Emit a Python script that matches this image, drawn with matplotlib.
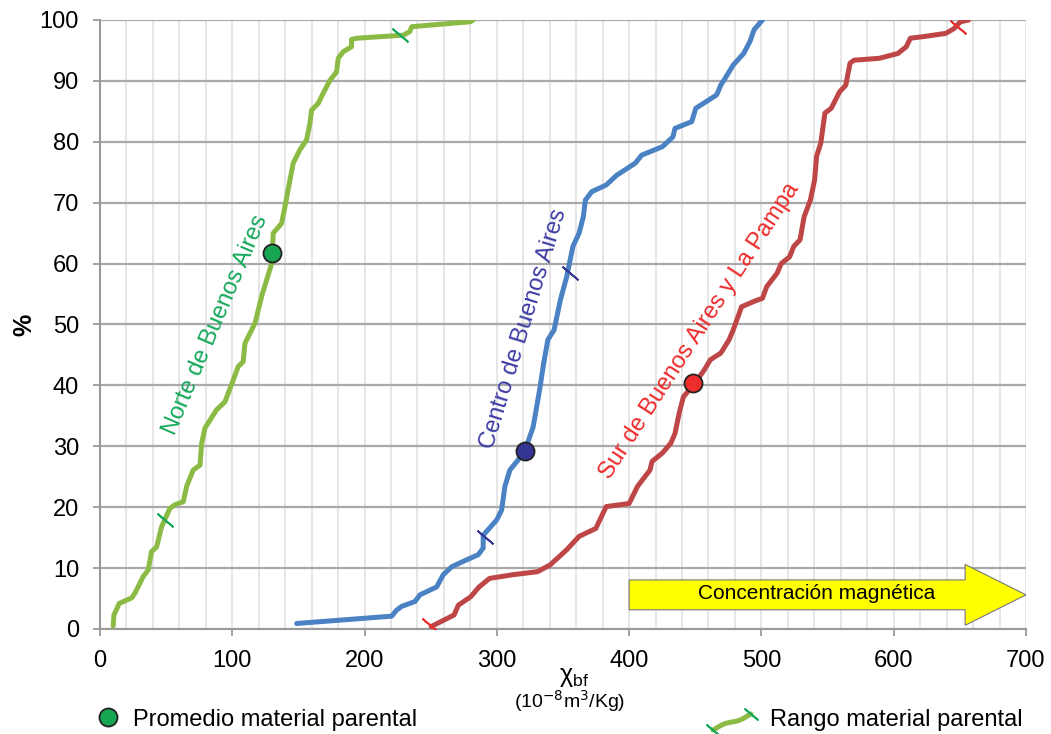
from matplotlib import pyplot as plt
from matplotlib import patches as mpatches
from matplotlib.lines import Line2D
from matplotlib import font_manager
import numpy as np

# cumulative curves (x = susceptibility, y = %)
norte_x = [10, 10.6, 14.6, 24, 26.5, 32.7, 36.5, 39, 42.9, 46.6, 52.9, 56.7, 63, 65.5, 70.5,
           75.6, 76.9, 79.4, 88.2, 94.5, 100.8, 104.5, 108.3, 109.6, 117.2, 122.2, 129.8, 131,
           137.3, 139.8, 143.6, 146.1, 151.2, 156.2, 158.7, 160, 165, 168.8, 173.9, 178.9, 180.1,
           183.9, 190.2, 190.2, 194, 229.3, 234.3, 235.6, 279.7, 282.2]
norte_y = [0.5, 2.3, 4.2, 5.1, 5.9, 8.6, 9.7, 12.7, 13.5, 16.8, 19.8, 20.4, 20.9, 23.4, 26.1,
           26.9, 30.5, 33, 36, 37.3, 40.9, 43.1, 43.9, 46.9, 50.2, 54.6, 60, 65,
           66.6, 69.3, 73.7, 76.5, 78.7, 80.3, 83, 85.2, 86.3, 88, 90.1, 91.5, 93.7,
           94.8, 95.6, 96.8, 97, 97.5, 98.1, 98.9, 99.7, 100]

centro_x = [148.7, 220.5, 224.3, 228, 238.1, 241.9, 254.5, 259.5, 265.8, 274.6, 286, 289.7,
            289.7, 299.9, 303.6, 306.1, 309.9, 318.1, 321.3, 327.5, 332.3, 335.4, 338.6, 343.3,
            348, 352.8, 357.5, 362.2, 365.4, 366.9, 371.7, 382.7, 390.6, 404.7, 409.5, 425.2,
            433.1, 434.7, 447.3, 450.4, 466.2, 469.3, 472.5, 478.7, 486.6, 491.4, 494.5, 500.8]
centro_y = [0.9, 2.1, 3.1, 3.7, 4.5, 5.6, 6.9, 8.9, 10.2, 11.1, 12.2, 13.3,
            15.4, 17.9, 19.5, 23.4, 26.1, 28.3, 29.3, 33.2, 39.2, 43.6, 47.5, 49.1,
            54, 57.8, 62.8, 65, 67.7, 70.4, 71.8, 72.9, 74.5, 76.5, 77.8, 79.2,
            80.8, 82.2, 83.3, 85.5, 87.7, 89.3, 90.4, 92.6, 94.5, 96.5, 98.4, 100]

sur_x = [250.4, 267.7, 270.9, 280.3, 286.6, 294.5, 311.8, 330.7, 340.2, 352.8, 362.2, 374.8,
         382.7, 400, 406.3, 415.8, 417.3, 425.2, 431.5, 434.7, 437.8, 441, 449.5, 456.7,
         461.4, 469.3, 475.6, 478.7, 485, 494.5, 500.8, 504, 511.8, 515, 521.3, 524.4,
         529.2, 532.3, 537, 540.2, 541.7, 544.9, 548, 552.8, 559.1, 563.8, 567, 570.1,
         589, 603.2, 609.5, 612.6, 623.6, 639.4, 645.7, 650.4, 656.7]
sur_y = [0.4, 2.3, 3.9, 5.3, 6.9, 8.3, 8.9, 9.4, 10.5, 13, 15.2, 16.5,
         20.1, 20.6, 23.4, 26.1, 27.5, 28.9, 30.5, 32.1, 35.4, 38.1, 40.3, 42.5,
         44.2, 45.3, 47.5, 49.1, 52.9, 53.8, 54.3, 56.2, 58.4, 60, 61.1, 62.8,
         63.9, 67.7, 70.4, 73.7, 77.6, 79.8, 84.7, 85.5, 88.2, 89.3, 92.9, 93.4,
         93.7, 94.5, 95.6, 97, 97.3, 97.8, 98.6, 99.7, 100]

# parent material: mean (dot) and range limits (ticks)
regions = ["Norte de Buenos Aires", "Centro de Buenos Aires", "Sur de Buenos Aires y La Pampa"]
mean_x = [130, 321.3, 448.3]
mean_y = [61.7, 29.2, 40.4]
range_lo_x = [49.1, 291, 249.4]
range_lo_y = [17.9, 15.1, 0.7]
range_hi_x = [226.8, 355.3, 648.8]
range_hi_y = [97.5, 58.5, 98.9]

line_colors = ["#8cbb45", "#4a82c4", "#bf4646"]
dot_colors = ["#17a552", "#353594", "#ee2d2d"]
text_colors = ["#14a85a", "#3b3ba3", "#ee2a2a"]
label_pos = [(87.5, 50, 67), (320.5, 49.3, 73), (453.5, 49, 57)]

avail = {f.name for f in font_manager.fontManager.ttflist}
narrow = "Liberation Sans Narrow" if "Liberation Sans Narrow" in avail else "Liberation Sans"
plt.rcParams['font.family'] = ['Liberation Sans', 'DejaVu Sans']

fig = plt.figure(figsize=(10.51, 7.34), dpi=100)
ax = fig.add_axes([0.0951, 0.1431, 0.8811, 0.8297])

curves = [(norte_x, norte_y), (centro_x, centro_y), (sur_x, sur_y)]
for i, (cx, cy) in enumerate(curves):
    ax.plot(cx, cy, color=line_colors[i], lw=3.6, solid_joinstyle='round',
            solid_capstyle='round', zorder=3)
    ax.plot([range_lo_x[i], range_hi_x[i]], [range_lo_y[i], range_hi_y[i]], ls='none',
            marker=(2, 2, 50), ms=15, mew=1.3, color=dot_colors[i] if i else text_colors[i],
            zorder=4)
    ax.plot(mean_x[i], mean_y[i], 'o', ms=13, mfc=dot_colors[i], mec='#222222', mew=1.3,
            zorder=5)
    lx, ly, rot = label_pos[i]
    ax.text(lx, ly, regions[i], rotation=rot, color=text_colors[i], fontsize=17,
            ha='center', va='center', rotation_mode='anchor')

arrow = mpatches.FancyArrow(400, 5.6, 300, 0, width=4.9, head_width=10, head_length=46,
                            length_includes_head=True, fc='#ffff00', ec='#777777', lw=0.8,
                            zorder=4)
ax.add_patch(arrow)
ax.text(542, 5.8, "Concentración magnética", fontsize=15, family=narrow,
        ha='center', va='center', zorder=5)

ax.set_xlim(0, 700)
ax.set_ylim(0, 100)
ax.set_xticks(np.arange(0, 701, 100))
ax.set_xticks(np.arange(0, 701, 20), minor=True)
ax.set_yticks(np.arange(0, 101, 10))
ax.grid(axis='x', which='both', color='#e2e2e2', lw=1.2, zorder=0)
ax.grid(axis='y', which='major', color='#a9a9a9', lw=1.6, zorder=1)
ax.set_axisbelow(True)
for s in ['top', 'right']:
    ax.spines[s].set_visible(False)
for s in ['left', 'bottom']:
    ax.spines[s].set_color('#9a9a9a')
    ax.spines[s].set_linewidth(1.5)
ax.tick_params(axis='both', which='major', color='#9a9a9a', width=1.3, length=5,
               labelsize=17, pad=10)
ax.tick_params(axis='x', which='minor', length=0)
for lab in ax.get_xticklabels():
    lab.set_family(narrow)

ax.set_ylabel('%', fontsize=18, fontweight='bold')
ax.yaxis.set_label_coords(-0.069, 0.5)
fig.text(574 / 1051, 1 - 677 / 734, 'χ$_{\\mathregular{bf}}$', fontsize=18,
         ha='center', va='center', family=narrow)
fig.text(570 / 1051, 1 - 701 / 734, '(10$^{-8}$m$^3$/Kg)', fontsize=14,
         family=narrow, ha='center', va='center')

# legend, drawn by hand at the bottom of the figure
fig.add_artist(Line2D([108 / 1051], [1 - 717 / 734], ls='none', marker='o', ms=13,
                      mfc=dot_colors[0], mec='#222222', mew=1.3))
fig.text(133 / 1051, 1 - 720 / 734, 'Promedio material parental', fontsize=17,
         ha='left', va='center')
t = np.linspace(0, 1, 30)
sq_x = (713 + 38 * t) / 1051
sq_y = 1 - (722 - 8 * np.sin(np.pi * (t - 0.5)) - 3 * np.sin(2 * np.pi * t)) / 734
fig.add_artist(Line2D(sq_x, sq_y, color=line_colors[0], lw=3.6, solid_capstyle='round'))
fig.add_artist(Line2D([sq_x[0], sq_x[-1]], [sq_y[0], sq_y[-1]], ls='none',
                      marker=(2, 2, 50), ms=13, mew=1.3, color=text_colors[0]))
fig.text(770 / 1051, 1 - 720 / 734, 'Rango material parental', fontsize=17,
         ha='left', va='center')

fig.savefig('out.png', dpi=100)
